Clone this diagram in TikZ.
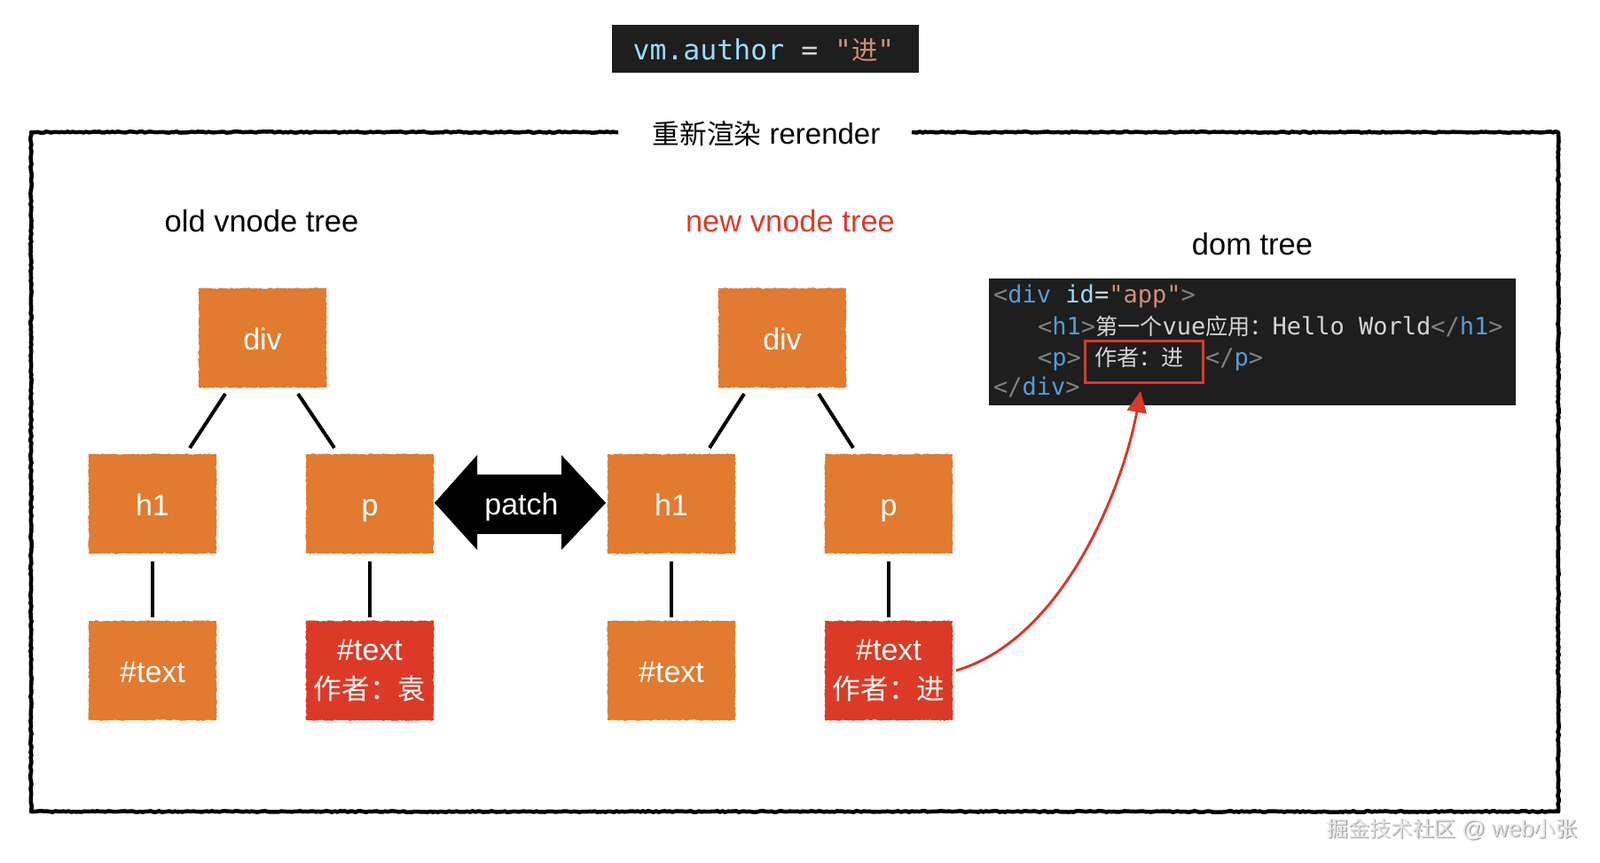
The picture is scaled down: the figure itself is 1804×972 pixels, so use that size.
\documentclass[tikz,border=0pt]{standalone}
\usepackage{fontspec}
\setmainfont{Liberation Sans}
\setmonofont{DejaVu Sans Mono}
\newfontfamily\cjk[Scale=0.93]{Noto Sans CJK SC}
\usetikzlibrary{arrows.meta,decorations.pathmorphing}
\definecolor{boxorange}{HTML}{E27A2F}
\definecolor{boxred}{HTML}{DC3A26}
\definecolor{codebg}{HTML}{1E1E1E}
\definecolor{cblue}{HTML}{569CD6}
\definecolor{clblue}{HTML}{9CDCFE}
\definecolor{cgray}{HTML}{808080}
\definecolor{cwhite}{HTML}{D4D4D4}
\definecolor{cstr}{HTML}{CE9178}
\definecolor{titlered}{HTML}{DD3B2A}
\definecolor{hlred}{HTML}{D9392A}
\begin{document}
\begin{tikzpicture}[x=1pt,y=-1pt,
  vbase/.style={rectangle, fill=boxorange, draw=boxorange, line width=1pt, minimum width=143pt, minimum height=111pt, inner sep=0pt, text=white, font=\fontsize{34pt}{44pt}\selectfont, align=center, decorate, decoration={random steps, segment length=2pt, amplitude=0.7pt}},
  vnode/.style={vbase, text height=28pt, text depth=2pt},
  vred/.style={vbase, fill=boxred, draw=boxred},
  conn/.style={line width=4pt, black},
  lbl/.style={font=\fontsize{34.5pt}{40pt}\selectfont, anchor=base, inner sep=0pt},
  codeline/.style={font=\ttfamily\fontsize{27pt}{30pt}\selectfont, anchor=base west, inner sep=0pt, text=cwhite},
  frameline/.style={line width=4.5pt, black, line join=round, decorate, decoration={random steps, segment length=3pt, amplitude=0.7pt}},
  redarrow/.style={line width=3pt, hlred, -{Triangle[length=24pt,width=22pt]}}
]
\useasboundingbox (0,0) rectangle (1804,972);

% top code box
\node[fill=codebg, minimum width=346pt, minimum height=54pt, inner sep=0pt] (vmbox) at (863,55) {};
\node[font=\ttfamily\fontsize{31.5pt}{34pt}\selectfont, anchor=base, inner sep=0pt] (vm) at (861,67)
  {\textcolor{clblue}{vm.author} \textcolor{cwhite}{=} \textcolor{cstr}{"{\cjk 进}"}};

% frame
\coordinate (fa) at (697,149);
\coordinate (fb) at (1028,149);
\draw[frameline] (fa) -- (35,149) -- (35,915) -- (1757,915) -- (1757,149) -- (fb);
\node[lbl, font=\fontsize{33pt}{40pt}\selectfont] (title) at (864,162) {{\cjk 重新渲染} rerender};

% tree labels
\node[lbl] (oldlbl) at (295,261) {old vnode tree};
\node[lbl, text=titlered] (newlbl) at (891,261) {new vnode tree};
\node[lbl] (domlbl) at (1412,287) {dom tree};

% old tree
\node[vnode] (odiv) at (296,381) {div};
\node[vnode] (oh1) at (172,568) {h1};
\node[vnode] (op) at (417,568) {p};
\node[vnode] (otx1) at (172,756) {\#text};
\node[vred] (otx2) at (417,756) {\#text\\{\cjk 作者：袁}};

% new tree
\node[vnode] (ndiv) at (882,381) {div};
\node[vnode] (nh1) at (757,568) {h1};
\node[vnode] (np) at (1002,568) {p};
\node[vnode] (ntx1) at (757,756) {\#text};
\node[vred] (ntx2) at (1002,756) {\#text\\{\cjk 作者：进}};

% connectors
\draw[conn] ([xshift=-42pt,yshift=-7pt]odiv.south) -- ([xshift=42pt,yshift=7pt]oh1.north);
\draw[conn] ([xshift=40pt,yshift=-7pt]odiv.south) -- ([xshift=-40pt,yshift=7pt]op.north);
\draw[conn] ([yshift=-9pt]oh1.south) -- ([yshift=4pt]otx1.north);
\draw[conn] ([yshift=-9pt]op.south) -- ([yshift=4pt]otx2.north);
\draw[conn] ([xshift=-43pt,yshift=-7pt]ndiv.south) -- ([xshift=43pt,yshift=7pt]nh1.north);
\draw[conn] ([xshift=41pt,yshift=-7pt]ndiv.south) -- ([xshift=-40pt,yshift=7pt]np.north);
\draw[conn] ([yshift=-9pt]nh1.south) -- ([yshift=4pt]ntx1.north);
\draw[conn] ([yshift=-9pt]np.south) -- ([yshift=4pt]ntx2.north);

% patch double arrow
\fill[black] (490,567) -- (538,513) -- (538,535) -- (633,535) -- (633,513) -- (683,567)
  -- (633,620) -- (633,602) -- (538,602) -- (538,620) -- cycle;
\node[text=white, font=\fontsize{34pt}{40pt}\selectfont, inner sep=0pt, anchor=base] (patch) at (588,580) {patch};

% dom code box
\node[fill=codebg, minimum width=594pt, minimum height=143pt, inner sep=0pt] (dom) at (1412,385.5) {};
\node[codeline] (l1) at (1120,341) {\textcolor{cgray}{<}\textcolor{cblue}{div} \textcolor{clblue}{id}=\textcolor{cstr}{"app"}\textcolor{cgray}{>}};
\node[codeline] (l2) at (1170,377) {\textcolor{cgray}{<}\textcolor{cblue}{h1}\textcolor{cgray}{>}{\cjk 第一个}vue{\cjk 应用：}Hello World\textcolor{cgray}{</}\textcolor{cblue}{h1}\textcolor{cgray}{>}};
\node[codeline] (l3a) at (1170,412) {\textcolor{cgray}{<}\textcolor{cblue}{p}\textcolor{cgray}{>}};
\node[codeline] (l3b) at (1234,412) {{\cjk 作者：进}};
\node[codeline] (l3c) at (1359,412) {\textcolor{cgray}{</}\textcolor{cblue}{p}\textcolor{cgray}{>}};
\node[codeline] (l4) at (1120,445) {\textcolor{cgray}{</}\textcolor{cblue}{div}\textcolor{cgray}{>}};
\node[draw=hlred, line width=3pt, minimum width=133pt, minimum height=47pt, inner sep=0pt] (hl) at (1290,408) {};

% red curved arrow
\draw[redarrow] ([xshift=4pt]ntx2.east) .. controls +(120,-35) and +(-20,110) .. ([xshift=-4pt,yshift=-8pt]hl.south);

% watermark
\node[anchor=base east, inner sep=0pt, text=gray!70, font=\fontsize{26pt}{30pt}\selectfont] (wmshadow) at (1779.5,944.5) {{\cjk 掘金技术社区} @ web{\cjk 小张}};
\node[anchor=base east, inner sep=0pt, text=gray!20, font=\fontsize{26pt}{30pt}\selectfont] (wm) at (1778,943) {{\cjk 掘金技术社区} @ web{\cjk 小张}};
\end{tikzpicture}
\end{document}
